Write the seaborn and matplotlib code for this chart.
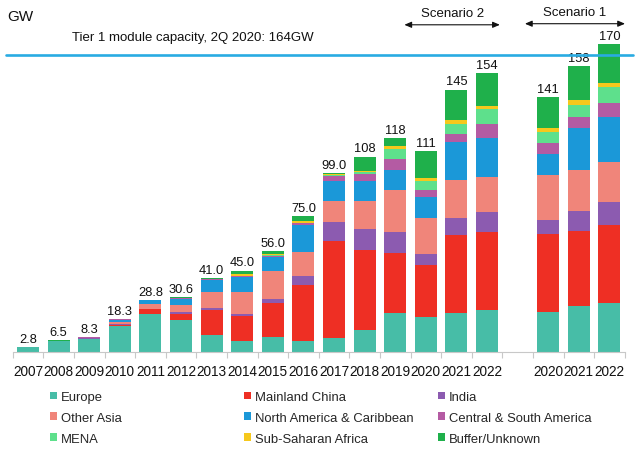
import numpy as np
import pandas as pd
import seaborn as sns
import matplotlib
matplotlib.use("Agg")
import matplotlib.pyplot as plt
from matplotlib.patches import Patch

# bar labels: history 2007-2022 (scenario 2), then scenario 1 2020-2022
years = ["2007", "2008", "2009", "2010", "2011", "2012", "2013", "2014", "2015",
         "2016", "2017", "2018", "2019", "2020", "2021", "2022",
         "2020", "2021", "2022"]

regions = ["Europe", "Mainland China", "India", "Other Asia",
           "North America & Caribbean", "Central & South America",
           "MENA", "Sub-Saharan Africa", "Buffer/Unknown"]

europe = [2.6, 6.1, 7.2, 14.3, 21.2, 17.9, 9.5, 6.2, 8.3, 6.2, 7.8, 12.2, 21.5, 19.1, 21.8, 23.0, 21.9, 25.2, 27.0]
china = [0, 0, 0, 0.8, 2.6, 3.1, 13.7, 13.7, 19.0, 30.8, 53.5, 44.0, 33.4, 29.2, 42.8, 43.4, 43.2, 41.8, 43.2]
india = [0, 0, 0.3, 0.2, 0.2, 1.0, 1.3, 1.0, 2.2, 5.0, 10.5, 11.6, 11.6, 5.7, 9.7, 11.0, 7.7, 11.0, 12.9]
other_asia = [0, 0.2, 0.3, 1.2, 2.3, 3.9, 8.6, 12.5, 15.0, 13.1, 11.6, 15.8, 22.9, 20.0, 20.9, 19.1, 25.0, 22.5, 21.9]
north_america = [0, 0, 0.2, 1.3, 2.3, 3.4, 6.8, 8.0, 8.2, 15.1, 11.2, 10.8, 11.4, 11.4, 20.6, 21.8, 11.6, 23.0, 25.0]
central_south_america = [0, 0, 0.3, 0.2, 0.2, 0.3, 0.3, 0.4, 0.6, 1.1, 2.5, 3.8, 6.0, 4.3, 4.7, 7.7, 6.3, 6.1, 7.4]
mena = [0, 0, 0, 0, 0, 0, 0, 0.3, 0.3, 0.2, 0.8, 1.3, 5.4, 5.0, 5.6, 8.1, 5.6, 7.0, 9.2]
sub_saharan = [0, 0, 0, 0, 0, 0, 0.2, 0.8, 0.6, 0.8, 0.4, 0.7, 1.5, 1.6, 2.2, 1.8, 2.4, 2.5, 2.2]
buffer_unknown = [0.2, 0.2, 0, 0.3, 0, 1.0, 0.6, 2.1, 1.8, 2.7, 0.7, 7.8, 4.3, 14.7, 16.7, 18.1, 17.3, 18.9, 21.2]

tier1_capacity = 164

colors = ["#47BDA7", "#EE2F24", "#8C5BB0", "#F0857A", "#1B98D8",
          "#B45BA3", "#5EE08C", "#F6C81C", "#1FB04B"]

series = [europe, china, india, other_asia, north_america,
          central_south_america, mena, sub_saharan, buffer_unknown]

# one empty slot between the two scenarios
pos = list(range(16)) + [17, 18, 19]
df = pd.DataFrame({r: v for r, v in zip(regions, series)})
df["pos"] = pos
cum = df[regions].cumsum(axis=1)
totals = cum[regions[-1]]

sns.set_theme(style="white")
plt.rcParams["font.family"] = ["Liberation Sans", "DejaVu Sans"]

fig = plt.figure(figsize=(6.4, 4.52), dpi=100)
ax = fig.add_axes([12.7 / 640, 1 - 353 / 452, 612 / 640, 333 / 452])

# stacked bars: draw cumulative heights from the top layer down
for r, c in reversed(list(zip(regions, colors))):
    sns.barplot(x=df["pos"], y=cum[r], color=c, width=0.72, native_scale=True,
                saturation=1, linewidth=0, errorbar=None, ax=ax)

for p, t in zip(pos, totals):
    lab = f"{t:.1f}" if t < 100 else f"{t:.0f}"
    ax.annotate(lab, (p, t), xytext=(0, 1.5), textcoords="offset points",
                ha="center", va="bottom", fontsize=9.3, color="#111111")

ax.set_xlim(-0.5, 19.5)
ax.set_ylim(0, 184)
ax.set_xticks(pos)
ax.set_xticklabels(years, fontsize=9.8, color="#111111")
ax.set_xticks(np.arange(-0.5, 20, 1), minor=True)
ax.tick_params(axis="x", which="major", length=0, pad=9)
ax.tick_params(axis="x", which="minor", length=4, color="#C8C8C8", width=0.8, bottom=True)
ax.set_yticks([])
ax.set_xlabel("")
ax.set_ylabel("")
for s in ["top", "right", "left"]:
    ax.spines[s].set_visible(False)
ax.spines["bottom"].set_color("#C8C8C8")
ax.spines["bottom"].set_linewidth(0.8)

# tier 1 capacity line across the whole figure
ax.plot([-0.72, 19.77], [tier1_capacity, tier1_capacity], color="#29ABE2",
        lw=1.9, clip_on=False, zorder=5)

fig.text(7 / 640, 1 - 17 / 452, "GW", fontsize=11, va="center", ha="left", color="#111111")
fig.text(72 / 640, 1 - 38 / 452, "Tier 1 module capacity, 2Q 2020: 164GW",
         fontsize=9.5, va="center", ha="left", color="#111111")

for (x0, x1, ty, ay, lab) in [(12.3, 15.42, 187.4, 180.8, "Scenario 2"),
                               (16.24, 19.51, 188.0, 181.4, "Scenario 1")]:
    ax.annotate("", xy=(x0, ay), xytext=(x1, ay), annotation_clip=False,
                arrowprops=dict(arrowstyle="<|-|>,head_length=0.35,head_width=0.15",
                                color="#111111", lw=0.8, shrinkA=0, shrinkB=0))
    ax.text((x0 + x1) / 2, ty, lab, ha="center", va="center", fontsize=9.5,
            color="#111111", clip_on=False)

handles = [Patch(facecolor=c, edgecolor="none", label=r) for r, c in zip(regions, colors)]
col_x = [50, 244, 438]
for k in range(3):
    h = [handles[k], handles[k + 3], handles[k + 6]]
    fig.legend(handles=h, loc="center left", bbox_to_anchor=(col_x[k] / 640, 1 - 419 / 452),
               frameon=False, fontsize=9.4, handlelength=0.55, handleheight=0.55,
               handletextpad=0.3, labelspacing=0.68, borderpad=0, borderaxespad=0)

fig.savefig("out.png", dpi=100)
